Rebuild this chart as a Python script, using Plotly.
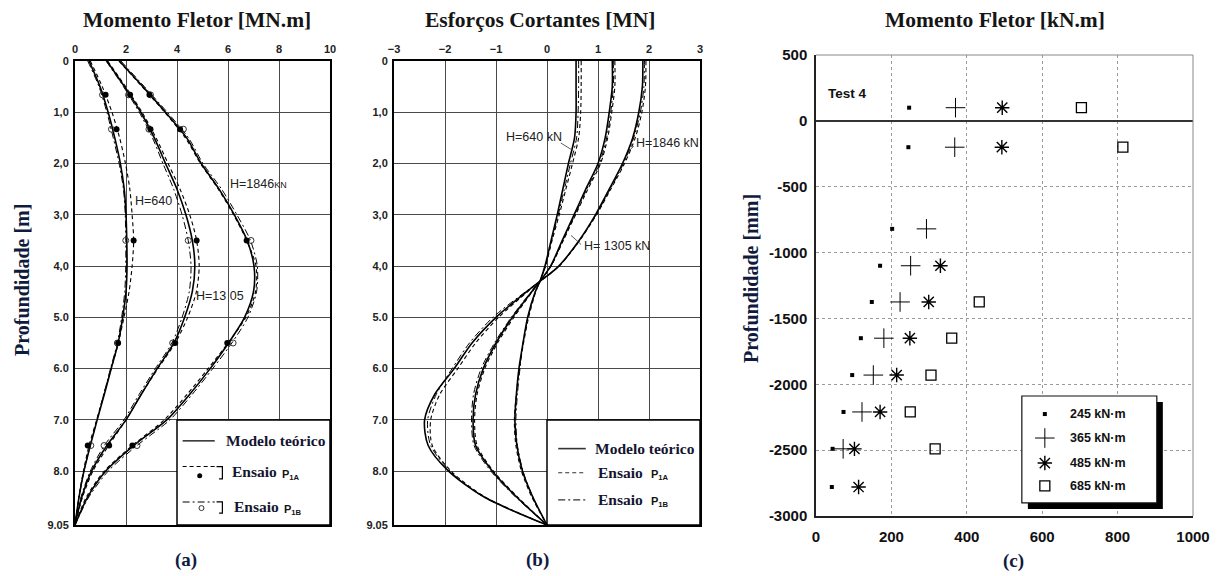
import plotly.graph_objects as go

# the page body adds an 8 px margin: the figure is drawn 8 px smaller and all
# reference pixel positions are shifted by that amount
OFF = 8
W, H = 1221 - OFF, 576 - OFF

# ---------------- panel (a): Momento Fletor [MN.m] ----------------
depth_a = [0, 0.5, 1.0, 1.5, 2.0, 2.5, 3.0, 3.5, 4.0, 4.5, 5.0, 5.5, 6.0, 6.5, 7.0, 7.5, 8.0, 8.5, 9.05]
m640_teo = [0.55, 0.98, 1.3, 1.56, 1.78, 1.93, 2.0, 2.03, 2.04, 2.0, 1.87, 1.69, 1.42, 1.15, 0.87, 0.6, 0.35, 0.16, 0]
m640_p1a = [0.6, 1.07, 1.45, 1.75, 1.98, 2.15, 2.24, 2.3, 2.24, 2.12, 1.92, 1.7, 1.42, 1.13, 0.85, 0.55, 0.33, 0.15, 0]
m640_p1b = [0.5, 0.94, 1.25, 1.5, 1.73, 1.9, 1.97, 1.99, 1.99, 1.95, 1.83, 1.66, 1.39, 1.13, 0.86, 0.6, 0.35, 0.16, 0]
m1305_teo = [1.25, 1.94, 2.58, 3.11, 3.55, 4.0, 4.35, 4.6, 4.7, 4.6, 4.3, 3.88, 3.22, 2.6, 2.0, 1.25, 0.65, 0.27, 0]
m1305_p1a = [1.28, 1.98, 2.63, 3.18, 3.65, 4.12, 4.5, 4.77, 4.87, 4.76, 4.42, 3.93, 3.25, 2.6, 2.0, 1.32, 0.7, 0.3, 0]
m1305_p1b = [1.22, 1.9, 2.52, 3.04, 3.45, 3.87, 4.2, 4.44, 4.55, 4.48, 4.2, 3.8, 3.15, 2.52, 1.92, 1.15, 0.6, 0.24, 0]
m1846_teo = [1.74, 2.66, 3.55, 4.38, 4.95, 5.65, 6.25, 6.75, 7.02, 7.0, 6.65, 6.02, 5.3, 4.5, 3.6, 2.3, 1.2, 0.5, 0]
m1846_p1a = [1.72, 2.63, 3.52, 4.33, 4.92, 5.62, 6.22, 6.73, 7.1, 7.08, 6.7, 6.0, 5.22, 4.4, 3.5, 2.25, 1.15, 0.45, 0]
m1846_p1b = [1.8, 2.72, 3.62, 4.45, 5.02, 5.75, 6.35, 6.88, 7.15, 7.12, 6.78, 6.15, 5.4, 4.6, 3.72, 2.43, 1.3, 0.55, 0]

depth_pts = [0.66, 1.33, 3.5, 5.5, 7.5]
m640_p1a_pts = [1.2, 1.63, 2.3, 1.69, 0.5]
m640_p1b_pts = [1.08, 1.43, 1.99, 1.66, 0.62]
m1305_p1a_pts = [2.16, 2.96, 4.77, 3.93, 1.34]
m1305_p1b_pts = [2.1, 2.9, 4.44, 3.83, 1.14]
m1846_p1a_pts = [2.92, 4.12, 6.73, 5.97, 2.25]
m1846_p1b_pts = [2.96, 4.25, 6.9, 6.2, 2.43]

xa_ticks = [0, 2, 4, 6, 8, 10]
depth_ticks = [0, 1, 2, 3, 4, 5, 6, 7, 8, 9.05]
depth_ticktext = ["0", "1,0", "2,0", "3,0", "4,0", "5.0", "6.0", "7.0", "8.0", "9.05"]

# ---------------- panel (b): Esforcos Cortantes [MN] ----------------
depth_b = [0, 0.5, 1.0, 1.5, 2.0, 2.5, 3.0, 3.5, 4.0, 4.3, 4.5, 5.0, 5.5, 6.0, 6.5, 7.0, 7.5, 8.0, 8.5, 9.05]
v640_teo = [0.57, 0.57, 0.57, 0.54, 0.42, 0.31, 0.2, 0.08, -0.04, -0.14, -0.23, -0.38, -0.47, -0.55, -0.6, -0.63, -0.59, -0.48, -0.28, 0]
v640_p1a = [0.67, 0.67, 0.66, 0.62, 0.5, 0.37, 0.24, 0.1, -0.03, -0.14, -0.22, -0.36, -0.46, -0.54, -0.6, -0.64, -0.61, -0.5, -0.3, 0]
v640_p1b = [0.62, 0.62, 0.61, 0.58, 0.46, 0.34, 0.22, 0.09, -0.03, -0.14, -0.23, -0.37, -0.47, -0.53, -0.58, -0.61, -0.58, -0.47, -0.28, 0]
v1305_teo = [1.28, 1.28, 1.22, 1.14, 1.0, 0.76, 0.53, 0.3, 0.07, -0.14, -0.3, -0.68, -1.0, -1.25, -1.4, -1.45, -1.4, -1.07, -0.6, 0]
v1305_p1a = [1.33, 1.33, 1.27, 1.19, 1.05, 0.8, 0.56, 0.32, 0.08, -0.14, -0.29, -0.65, -0.97, -1.22, -1.37, -1.42, -1.37, -1.05, -0.58, 0]
v1305_p1b = [1.3, 1.3, 1.25, 1.17, 1.03, 0.78, 0.55, 0.31, 0.08, -0.14, -0.31, -0.7, -1.03, -1.29, -1.44, -1.48, -1.43, -1.1, -0.62, 0]
v1846_teo = [1.88, 1.87, 1.8, 1.68, 1.48, 1.22, 0.95, 0.63, 0.23, -0.14, -0.4, -1.0, -1.47, -1.82, -2.2, -2.4, -2.33, -1.93, -1.24, 0]
v1846_p1a = [1.94, 1.93, 1.86, 1.73, 1.52, 1.25, 0.97, 0.64, 0.24, -0.14, -0.38, -0.95, -1.4, -1.75, -2.1, -2.28, -2.25, -1.88, -1.22, 0]
v1846_p1b = [1.91, 1.9, 1.83, 1.7, 1.5, 1.24, 0.96, 0.64, 0.24, -0.14, -0.42, -1.06, -1.52, -1.86, -2.17, -2.34, -2.28, -1.9, -1.25, 0]
xb_ticks = [-3, -2, -1, 0, 1, 2, 3]

# ---------------- panel (c): Momento Fletor [kN.m], Test 4 ----------------
depth_c = [100, -200, -820, -1100, -1375, -1650, -1930, -2210, -2490, -2780]
m245 = [247, 245, 202, 170, 148, 119, 96, 73, 44, 42]
m365 = [370, 368, 293, 251, 223, 180, 152, 122, 72, None]
m485 = [494, 493, None, 330, 299, 249, 214, 170, 102, 113]
m685 = [704, 814, None, None, 433, 360, 305, 250, 316, None]
series_c = ["245 kN·m", "365 kN·m", "485 kN·m", "685 kN·m"]
xc_ticks = [0, 200, 400, 600, 800, 1000]
yc_ticks = [500, 0, -500, -1000, -1500, -2000, -2500, -3000]
yc_ticktext = ["500", "0", "-500", "-1000", "-1500", "-2000", "-2500", "-3000"]

SERIF = "Liberation Serif"
SANS = "Liberation Sans"
NAVY = "#101a3c"


def px(x):
    return (x - OFF) / W


def py(y):
    return 1 - (y - OFF) / H


fig = go.Figure()

DASH = "4px,3px"
DASHDOT = "7px,3px,2px,3px"


def add_curves(xs_list, depth, xa, ya):
    for xs, dash, w in xs_list:
        fig.add_trace(go.Scatter(x=xs, y=depth, mode="lines", xaxis=xa, yaxis=ya,
                                 line=dict(color="black", width=w, dash=dash, shape="spline", smoothing=0.8),
                                 showlegend=False, hoverinfo="skip"))


# panel (a) curves
add_curves([(m640_teo, "solid", 1.6), (m640_p1a, DASH, 1.1), (m640_p1b, DASHDOT, 1.0),
            (m1305_teo, "solid", 1.6), (m1305_p1a, DASH, 1.1), (m1305_p1b, DASHDOT, 1.0),
            (m1846_teo, "solid", 1.6), (m1846_p1a, DASH, 1.1), (m1846_p1b, DASHDOT, 1.0)],
           depth_a, "x", "y")
open_mk = dict(symbol="circle-open", size=6, color="#333", line=dict(width=1))
fill_mk = dict(symbol="circle", size=6, color="black")
for pts in [m640_p1b_pts, m1305_p1b_pts, m1846_p1b_pts]:
    fig.add_trace(go.Scatter(x=pts, y=depth_pts, mode="markers", xaxis="x", yaxis="y",
                             marker=open_mk, showlegend=False, hoverinfo="skip"))
for pts in [m640_p1a_pts, m1305_p1a_pts, m1846_p1a_pts]:
    fig.add_trace(go.Scatter(x=pts, y=depth_pts, mode="markers", xaxis="x", yaxis="y",
                             marker=fill_mk, showlegend=False, hoverinfo="skip"))
# legend sample markers (a)
fig.add_trace(go.Scatter(x=[4.89], y=[8.09], mode="markers", xaxis="x", yaxis="y",
                         marker=dict(symbol="circle", size=5, color="black"), showlegend=False, hoverinfo="skip"))
fig.add_trace(go.Scatter(x=[4.96], y=[8.72], mode="markers", xaxis="x", yaxis="y",
                         marker=dict(symbol="circle-open", size=5, color="#333", line=dict(width=1)),
                         showlegend=False, hoverinfo="skip"))

# panel (b) curves
add_curves([(v640_teo, "solid", 1.6), (v640_p1a, DASH, 1.1), (v640_p1b, DASHDOT, 1.0),
            (v1305_teo, "solid", 1.6), (v1305_p1a, DASH, 1.1), (v1305_p1b, DASHDOT, 1.0),
            (v1846_teo, "solid", 1.6), (v1846_p1a, DASH, 1.1), (v1846_p1b, DASHDOT, 1.0)],
           depth_b, "x2", "y2")

# panel (c) markers
sym_c = [dict(symbol="square", size=4, color="black"),
         dict(symbol="cross-thin-open", size=14, color="black", line=dict(width=1, color="black")),
         dict(symbol="asterisk-open", size=12, color="black", line=dict(width=1.4, color="black")),
         dict(symbol="square-open", size=10, color="black", line=dict(width=1.3, color="#222"))]
for vals, mk in zip([m245, m365, m485, m685], sym_c):
    fig.add_trace(go.Scatter(x=vals, y=depth_c, mode="markers", xaxis="x3", yaxis="y3",
                             marker=mk, showlegend=False, hoverinfo="skip"))

# legend markers for (c)
leg_c_x = 607
leg_c_y = [-2226, -2408, -2598, -2772]
for yy, mk in zip(leg_c_y, sym_c):
    fig.add_trace(go.Scatter(x=[leg_c_x], y=[yy], mode="markers", xaxis="x3", yaxis="y3",
                             marker=mk, showlegend=False, hoverinfo="skip"))

tick_ab = dict(family=SANS, size=11, color="#222", weight="bold")
grid_ab = dict(showgrid=True, gridcolor="#4a4a4a", gridwidth=1, showline=True, linecolor="black",
               linewidth=2, mirror=True, zeroline=False, ticks="", fixedrange=True, automargin=False)

ydom_ab = [py(525), py(61)]
fig.update_layout(
    width=W, height=H, margin=dict(l=0, r=0, t=0, b=0, pad=0, autoexpand=False), autosize=False,
    paper_bgcolor="white", plot_bgcolor="white", showlegend=False,
    xaxis=dict(domain=[px(75), px(330)], range=[0, 10], side="top", anchor="y",
               tickvals=xa_ticks, tickfont=tick_ab, ticklabelstandoff=2, **grid_ab),
    yaxis=dict(domain=ydom_ab, range=[9.05, 0], anchor="x", tickvals=depth_ticks,
               ticktext=depth_ticktext, tickfont=tick_ab, ticklabelstandoff=2, **grid_ab),
    xaxis2=dict(domain=[px(394), px(700)], range=[-3, 3], side="top", anchor="y2",
                tickvals=xb_ticks, tickfont=tick_ab, ticklabelstandoff=2, **grid_ab),
    yaxis2=dict(domain=ydom_ab, range=[9.05, 0], anchor="x2", tickvals=depth_ticks,
                ticktext=depth_ticktext, tickfont=tick_ab, ticklabelstandoff=2, **grid_ab),
    xaxis3=dict(domain=[px(816), px(1193)], range=[0, 1000], anchor="y3", tickvals=xc_ticks,
                showgrid=True, gridcolor="#9a9a9a", griddash="dot", gridwidth=1, automargin=False,
                showline=True, linecolor="#222", linewidth=1.5, zeroline=False, ticks="",
                ticklabelstandoff=6,
                tickfont=dict(family=SANS, size=15, color="#111", weight="bold")),
    yaxis3=dict(domain=[py(516), py(55)], range=[-3000, 500], anchor="x3", tickvals=yc_ticks,
                ticktext=yc_ticktext, showgrid=True, gridcolor="#9a9a9a", griddash="dot", gridwidth=1,
                showline=True, linecolor="#222", linewidth=1.5, zeroline=True, zerolinecolor="#333",
                zerolinewidth=1.5, ticks="", ticklabelstandoff=4, automargin=False,
                tickfont=dict(family=SANS, size=15, color="#111", weight="bold")),
)

shapes = []
# legend boxes (a) and (b)
shapes.append(dict(type="rect", xref="x", yref="y", x0=4, x1=10, y0=7, y1=9.05,
                   fillcolor="white", line=dict(color="black", width=1.5), layer="between"))
shapes.append(dict(type="rect", xref="x2", yref="y2", x0=0, x1=3, y0=7, y1=9.05,
                   fillcolor="white", line=dict(color="black", width=1.5), layer="between"))
# legend samples (a)
shapes.append(dict(type="line", xref="x", yref="y", x0=4.22, x1=5.48, y0=7.41, y1=7.41,
                   line=dict(color="black", width=1.2)))
shapes.append(dict(type="line", xref="x", yref="y", x0=4.22, x1=5.48, y0=7.91, y1=7.91,
                   line=dict(color="black", width=1.1, dash=DASH)))
shapes.append(dict(type="line", xref="x", yref="y", x0=4.22, x1=5.48, y0=8.6, y1=8.6,
                   line=dict(color="black", width=1.1, dash=DASHDOT)))
shapes.append(dict(type="path", xref="x", yref="y", path="M 5.55 7.91 L 5.78 7.91 L 5.78 8.15 L 5.65 8.15",
                   line=dict(color="black", width=1.2)))
shapes.append(dict(type="path", xref="x", yref="y", path="M 5.55 8.6 L 5.78 8.6 L 5.78 8.82 L 5.65 8.82",
                   line=dict(color="black", width=1.2)))
# legend samples (b)
shapes.append(dict(type="line", xref="x2", yref="y2", x0=0.22, x1=0.76, y0=7.56, y1=7.56,
                   line=dict(color="#333", width=1.6)))
shapes.append(dict(type="line", xref="x2", yref="y2", x0=0.22, x1=0.76, y0=8.03, y1=8.03,
                   line=dict(color="#333", width=1.1, dash=DASH)))
shapes.append(dict(type="line", xref="x2", yref="y2", x0=0.22, x1=0.76, y0=8.56, y1=8.56,
                   line=dict(color="#333", width=1.1, dash=DASHDOT)))
# leader lines (b)
shapes.append(dict(type="line", xref="x2", yref="y2", x0=0.27, x1=0.5, y0=1.6, y1=1.74,
                   line=dict(color="#333", width=0.8)))
shapes.append(dict(type="line", xref="x2", yref="y2", x0=1.7, x1=1.6, y0=1.66, y1=1.76,
                   line=dict(color="#333", width=0.8)))
shapes.append(dict(type="line", xref="x2", yref="y2", x0=0.67, x1=0.47, y0=3.58, y1=3.4,
                   line=dict(color="#333", width=0.8)))
# legend (c) with shadow
shapes.append(dict(type="rect", xref="x3", yref="y3", x0=562, x1=920, y0=-2947, y1=-2135,
                   fillcolor="black", line=dict(width=0), layer="between"))
shapes.append(dict(type="rect", xref="x3", yref="y3", x0=546, x1=904, y0=-2901, y1=-2089,
                   fillcolor="white", line=dict(color="#111", width=1.2), layer="between"))
# top/right border of (c)
shapes.append(dict(type="line", xref="x3 domain", yref="y3 domain", x0=0, x1=1, y0=1, y1=1,
                   line=dict(color="#888", width=1)))
shapes.append(dict(type="line", xref="x3 domain", yref="y3 domain", x0=1, x1=1, y0=0, y1=1,
                   line=dict(color="#888", width=1)))
fig.update_layout(shapes=shapes)

ann = []


def text(x, y, s, font, xref="paper", yref="paper", xanchor="center", yanchor="middle", angle=0):
    ann.append(dict(x=x, y=y, xref=xref, yref=yref, text=s, showarrow=False, font=font,
                    xanchor=xanchor, yanchor=yanchor, textangle=angle))


title_font = dict(family=SERIF, size=21.5, color="#151515", weight="bold")
text(px(197), py(20), "Momento Fletor [MN.m]", title_font)
text(px(540), py(20), "Esforços Cortantes [MN]", title_font)
text(px(995), py(20), "Momento Fletor [kN.m]", title_font)

ylab_font = dict(family=SERIF, size=20, color=NAVY, weight="bold")
text(px(22), py(280), "Profundidade [m]", ylab_font, angle=-90)
text(px(751), py(279), "Profundidade [mm]", ylab_font, angle=-90)

cap_font = dict(family=SERIF, size=19, color=NAVY, weight="bold")
text(px(186), py(560), "(a)", cap_font)
text(px(537), py(560), "(b)", cap_font)
text(px(1013), py(561), "(c)", cap_font)

# curve labels (a)
lab_font = dict(family=SANS, size=12.5, color="#222")
text(2.26, 2.73, "H=640", lab_font, "x", "y", xanchor="left")
text(6.0, 2.4, "H=1846<span style='font-size:9px'>KN</span>", lab_font, "x", "y", xanchor="left")
text(4.67, 4.58, "H=13 05", lab_font, "x", "y", xanchor="left")
# curve labels (b)
text(-0.84, 1.48, "H=640 kN", lab_font, "x2", "y2", xanchor="left")
text(1.71, 1.6, "H=1846 kN", lab_font, "x2", "y2", xanchor="left")
text(0.69, 3.6, "H= 1305 kN", lab_font, "x2", "y2", xanchor="left")

# legend texts (a)
leg_font = dict(family=SERIF, size=15.5, color="#151530", weight="bold")
sub_font = dict(family=SANS, size=11, color="#151515", weight="bold")
text(5.83, 7.41, "Modelo teórico", leg_font, "x", "y", xanchor="left")
text(6.07, 8.01, "Ensaio", leg_font, "x", "y", xanchor="left")
text(8.04, 8.07, "P<sub>1A</sub>", sub_font, "x", "y", xanchor="left")
text(6.15, 8.69, "Ensaio", leg_font, "x", "y", xanchor="left")
text(8.11, 8.75, "P<sub>1B</sub>", sub_font, "x", "y", xanchor="left")
# legend texts (b)
text(0.9, 7.56, "Modelo teórico", leg_font, "x2", "y2", xanchor="left")
text(0.96, 8.03, "Ensaio", leg_font, "x2", "y2", xanchor="left")
text(2.0, 8.08, "P<sub>1A</sub>", sub_font, "x2", "y2", xanchor="left")
text(0.96, 8.56, "Ensaio", leg_font, "x2", "y2", xanchor="left")
text(2.0, 8.61, "P<sub>1B</sub>", sub_font, "x2", "y2", xanchor="left")
# legend texts (c)
legc_font = dict(family=SANS, size=12.5, color="#111", weight="bold")
for yy, s in zip(leg_c_y, series_c):
    text(668, yy, s, legc_font, "x3", "y3", xanchor="left")
text(26, 211, "Test 4", dict(family=SANS, size=13.5, color="#111", weight="bold"), "x3", "y3", xanchor="left")

fig.update_layout(annotations=ann)
fig.write_html("out.html")
